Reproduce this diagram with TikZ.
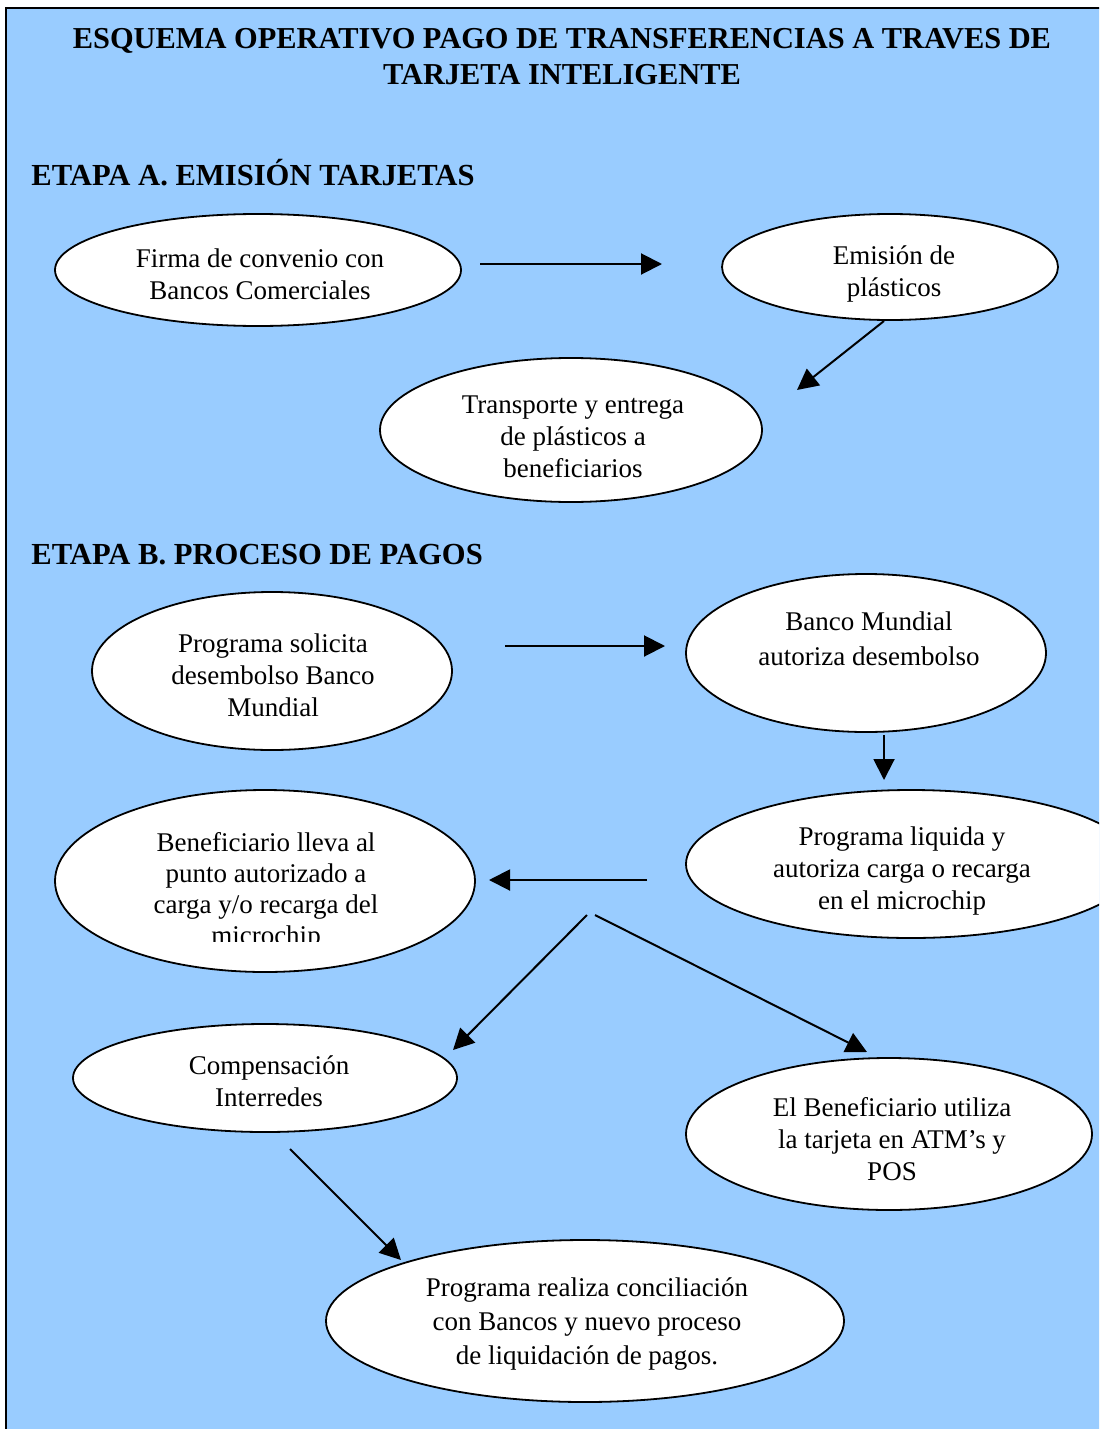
\documentclass[tikz,border=0pt]{standalone}
\usepackage{fontspec}
\setmainfont{Liberation Serif}
\usetikzlibrary{arrows.meta, shapes.geometric}
\definecolor{fondo}{HTML}{99CCFF}
\tikzset{
  bubble/.style={ellipse, draw=black, fill=white, line width=0.9pt, inner sep=0pt},
  txt/.style={align=center, inner sep=0pt, font=\fontsize{13.5}{16}\selectfont},
  etapa/.style={anchor=base west, inner sep=0pt, font=\fontsize{15.3}{18}\bfseries\selectfont},
  flecha/.style={line width=1pt, -{Triangle[length=10.5pt,width=10.5pt]}}
}

\begin{document}
\begin{tikzpicture}[x=0.5pt, y=-0.5pt]
\useasboundingbox (0,0) rectangle (1099,1429);
\clip (0,0) rectangle (1099,1429);
%background and frame
\fill[fondo] (6,8) rectangle (1130,1450);
\draw[line width=1.2pt] (6,1450) -- (6,8) -- (1130,8);
%titles
\node[txt, font=\fontsize{15.2}{18}\bfseries\selectfont] (titulo) at (562,57)
  {ESQUEMA OPERATIVO PAGO DE TRANSFERENCIAS A TRAVES DE\\TARJETA INTELIGENTE};
\node[etapa] (etapaA) at (31,185) {ETAPA A. EMISIÓN TARJETAS};
\node[etapa] (etapaB) at (31,564) {ETAPA B. PROCESO DE PAGOS};
%etapa A
\node[bubble, minimum width=203pt, minimum height=56pt] (firma) at (258,270) {};
\node[bubble, minimum width=168pt, minimum height=53pt] (emision) at (890,267) {};
\node[bubble, minimum width=191pt, minimum height=72pt] (transporte) at (571,430) {};
\node[txt] (firma-t) at (260,274) {Firma de convenio con\\Bancos Comerciales};
\node[txt] (emision-t) at (894,274) {Emisión de\\plásticos};
\node[txt] (transporte-t) at (573,437) {Transporte y entrega\\de plásticos a\\beneficiarios};
%etapa B
\node[bubble, minimum width=180pt, minimum height=79pt] (solicita) at (272,671) {};
\node[bubble, minimum width=180pt, minimum height=79pt] (banco) at (866,653) {};
\node[bubble, minimum width=225pt, minimum height=74pt] (liquida) at (911,864) {};
\node[bubble, minimum width=210pt, minimum height=91pt] (lleva) at (265,881) {};
\node[bubble, minimum width=192pt, minimum height=54pt] (compensa) at (265,1078) {};
\node[bubble, minimum width=203pt, minimum height=76pt] (utiliza) at (889,1134) {};
\node[bubble, minimum width=259pt, minimum height=81pt] (concilia) at (585,1321) {};
\node[txt] (solicita-t) at (273,675) {Programa solicita\\desembolso Banco\\Mundial};
\node[txt, font=\fontsize{13.5}{17.5}\selectfont] (banco-t) at (869,639) {Banco Mundial\\autoriza desembolso};
\node[txt] (liquida-t) at (902,871) {Programa liquida y\\autoriza carga o recarga\\en el microchip};
\begin{scope}
\clip (0,0) rectangle (1099,941);
\node[txt, font=\fontsize{13.5}{15.5}\selectfont] (lleva-t) at (266,891) {Beneficiario lleva al\\punto autorizado a\\carga y/o recarga del\\microchip};
\end{scope}
\node[txt] (compensa-t) at (269,1081) {Compensación\\Interredes};
\node[txt] (utiliza-t) at (892,1139) {El Beneficiario utiliza\\la tarjeta en ATM’s y\\POS};
\node[txt, font=\fontsize{13.5}{17}\selectfont] (concilia-t) at (587,1324) {Programa realiza conciliación\\con Bancos y nuevo proceso\\de liquidación de pagos.};
%arrow ends
\coordinate (a1) at (480,264);  \coordinate (a2) at (662,264);
\coordinate (b1) at (884,321);  \coordinate (b2) at (797,390);
\coordinate (c1) at (505,646);  \coordinate (c2) at (665,646);
\coordinate (d1) at (884,735);  \coordinate (d2) at (884,780);
\coordinate (e1) at (647,880);  \coordinate (e2) at (489,880);
\coordinate (f1) at (587,915);  \coordinate (f2) at (453,1050);
\coordinate (g1) at (595,915);  \coordinate (g2) at (867,1052);
\coordinate (h1) at (290,1149); \coordinate (h2) at (401,1260);
%arrows
\draw[flecha] (a1) -- (a2);
\draw[flecha] (b1) -- (b2);
\draw[flecha] (c1) -- (c2);
\draw[flecha] (d1) -- (d2);
\draw[flecha] (e1) -- (e2);
\draw[flecha] (f1) -- (f2);
\draw[flecha] (g1) -- (g2);
\draw[flecha] (h1) -- (h2);
\end{tikzpicture}
\end{document}
